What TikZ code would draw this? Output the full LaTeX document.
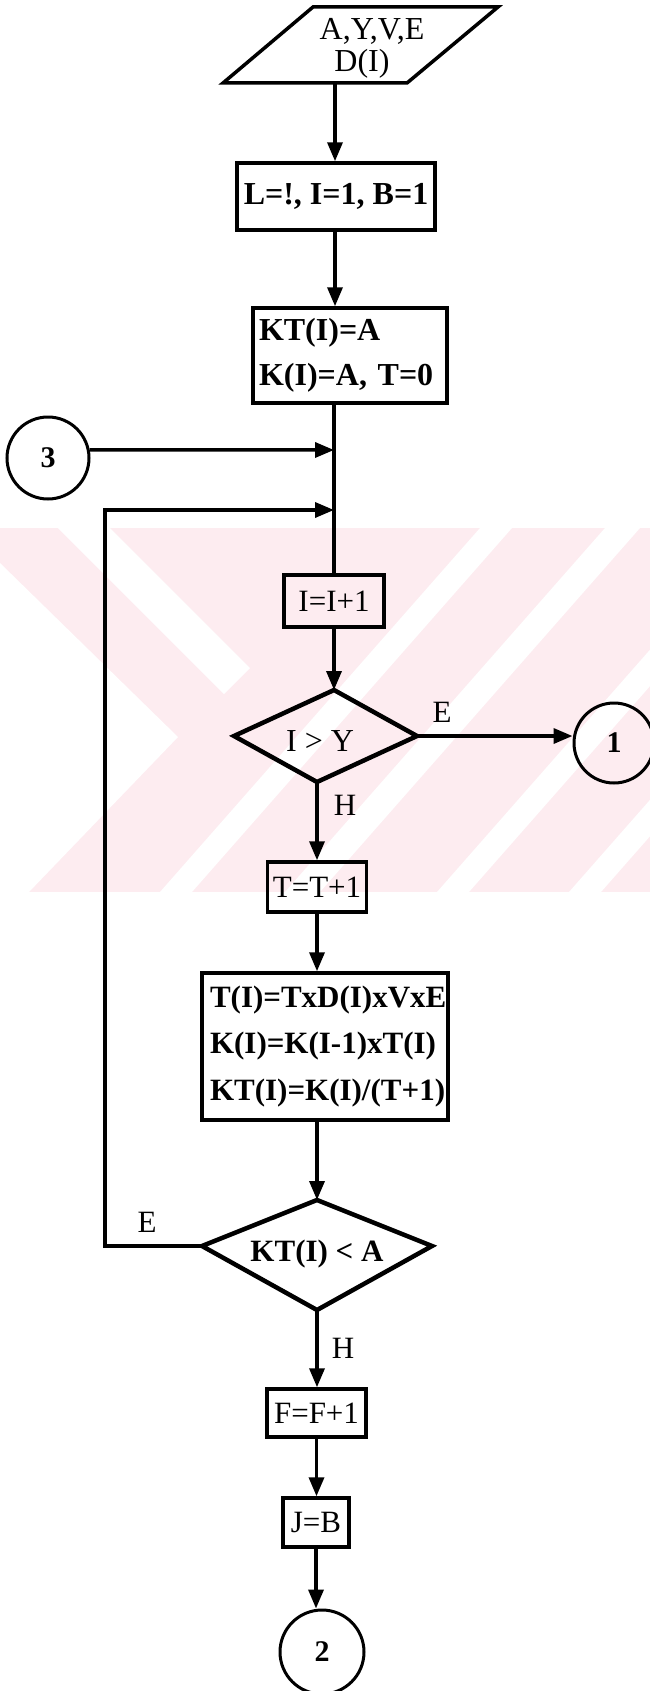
\documentclass[tikz,border=0pt]{standalone}
\usepackage{fontspec}
\setmainfont{Liberation Serif}
\usetikzlibrary{arrows.meta}
\definecolor{wmpink}{RGB}{253,236,240}
\begin{document}
\begin{tikzpicture}[x=1pt,y=-1pt,
  txt/.style={font=\fontsize{31}{45}\selectfont},
  flow/.style={-{Triangle[length=19pt,width=15pt]}, line width=3.5pt},
  plain/.style={line width=3.5pt},
  outline/.style={line width=4.5pt, line join=miter},
  boxnode/.style={draw, line width=3.5pt, inner sep=0pt, align=center, txt},
  conn/.style={draw, circle, line width=3pt, inner sep=0pt, txt, font=\fontsize{30}{36}\selectfont\bfseries},
  lbl/.style={inner sep=0pt, txt}
]
\useasboundingbox (0,0) rectangle (650,1691);
\clip (0,0) rectangle (650,1691);

% faint background band: chevrons and diagonal stripes
\fill[wmpink] (0,528) rectangle (650,892);
\fill[white] (0,563) -- (178,737) -- (29,892) -- (0,892) -- cycle;
\fill[white] (58,528) -- (110,528) -- (250,668) -- (224,694) -- cycle;
\fill[white] (480,528) -- (512,528) -- (192,892) -- (160,892) -- cycle;
\fill[white] (605,528) -- (640,528) -- (320,892) -- (285,892) -- cycle;
\fill[white] (757,528) -- (789,528) -- (469,892) -- (437,892) -- cycle;
\fill[white] (889,528) -- (921,528) -- (601,892) -- (569,892) -- cycle;

% input parallelogram
\coordinate (p1) at (313,7);
\coordinate (p2) at (498,7);
\coordinate (p3) at (407,83);
\coordinate (p4) at (223,83);
\draw[outline, line width=3.5pt] (p1) -- (p2) -- (p3) -- (p4) -- cycle;
\node[lbl, font=\fontsize{32}{34}\selectfont] (inp1) at (372,31) {A,Y,V,E};
\node[lbl, font=\fontsize{32}{34}\selectfont] (inp2) at (362,64) {D(I)};
\coordinate (inpout) at (335,83);

% process boxes
\node[boxnode, minimum width=198, minimum height=67, font=\fontsize{32}{45}\selectfont\bfseries] (b1) at (336,196.5) {L=!, I=1, B=1};
\node[boxnode, minimum width=194, minimum height=95, text width=182, align=left, font=\fontsize{32}{45}\selectfont\bfseries] (b2) at (350,355.5) {KT(I)=A\\K(I)=A, T=0};
\node[boxnode, minimum width=100, minimum height=52] (b3) at (334,601) {I=I+1};
\node[boxnode, minimum width=99, minimum height=50] (b4) at (317,887) {T=T+1};
\node[boxnode, minimum width=246, minimum height=147, text width=230, align=left, font=\fontsize{31}{46.5}\selectfont\bfseries] (b5) at (325,1046.5) {T(I)=TxD(I)xVxE\\K(I)=K(I-1)xT(I)\\KT(I)=K(I)/(T+1)};
\node[boxnode, minimum width=99, minimum height=48] (b6) at (316.5,1413) {F=F+1};
\node[boxnode, minimum width=66, minimum height=49] (b7) at (316,1522.5) {J=B};

% connectors (off-page)
\node[conn, minimum size=82] (c3) at (48,458) {3};
\node[conn, minimum size=80] (c1) at (614,743) {1};
\node[conn, minimum size=84] (c2) at (322,1652) {2};

% junctions on the main line
\coordinate (j3) at (334,450);
\coordinate (jl) at (334,510);
\coordinate (loopx) at (105,0);

% decision I > Y
\coordinate (d1t) at (334,690);
\coordinate (d1r) at (417,736);
\coordinate (d1b) at (317,782);
\coordinate (d1l) at (234,736);
\draw[outline] (d1t) -- (d1r) -- (d1b) -- (d1l) -- cycle;
\node[lbl, font=\fontsize{32}{36}\selectfont] (d1txt) at (320,741) {I > Y};
\node[lbl] (e1) at (442,712) {E};
\node[lbl] (h1) at (345,805) {H};

% decision KT(I) < A
\coordinate (d2t) at (317,1200);
\coordinate (d2r) at (432,1246);
\coordinate (d2b) at (317,1310);
\coordinate (d2l) at (202,1246);
\draw[outline] (d2t) -- (d2r) -- (d2b) -- (d2l) -- cycle;
\node[lbl, font=\fontsize{31}{36}\selectfont\bfseries] (d2txt) at (317,1254) {KT(I) < A};
\node[lbl] (e2) at (147,1222) {E};
\node[lbl] (h2) at (343,1348) {H};

% flow lines
\draw[flow] (inpout) -- (inpout |- b1.north);
\draw[flow] (b1.south -| inpout) -- (inpout |- b2.north);
\draw[plain] (b3.north |- b2.south) -- (b3.north);
\draw[flow] (c3.11) -- (j3);
\draw[flow] (d2l) -- (d2l -| loopx) -- (loopx |- jl) -- (jl);
\draw[flow] (b3.south) -- (d1t);
\draw[flow] (d1r) -- (d1r -| c1.west);
\draw[flow] (d1b) -- (d1b |- b4.north);
\draw[flow] (b4.south) -- (b4.south |- b5.north);
\draw[flow] (b4.south |- b5.south) -- (d2t);
\draw[flow] (d2b) -- (d2b |- b6.north);
\draw[flow] (b6.south) -- (b6.south |- b7.north);
\draw[flow] (b7.south) -- (b7.south |- c2.north);
\end{tikzpicture}
\end{document}
